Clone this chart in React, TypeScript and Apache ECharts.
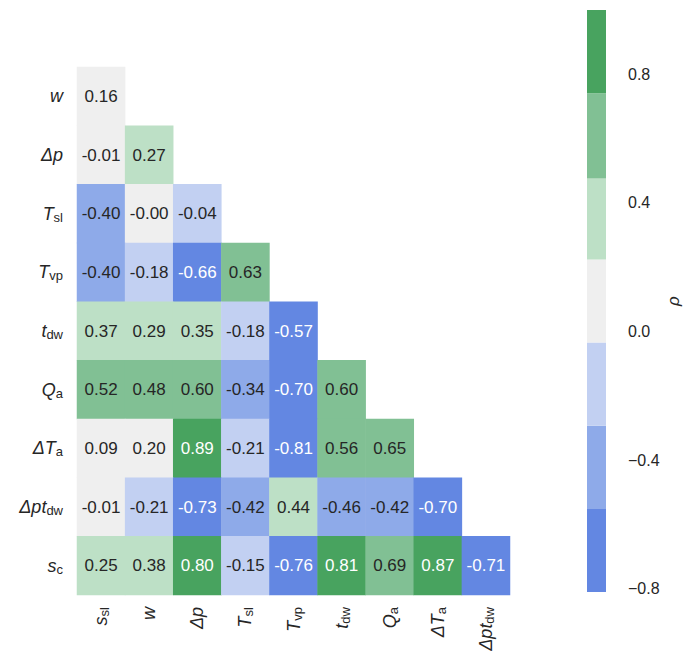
import React, { useEffect, useRef } from "react";
import * as echarts from "echarts";

const colLabels = ["s_sl", "w", "Δp", "T_sl", "T_vp", "t_dw", "Q_a", "ΔT_a", "Δpt_dw"];
const rowLabels = ["w", "Δp", "T_sl", "T_vp", "t_dw", "Q_a", "ΔT_a", "Δpt_dw", "s_c"];

const rowW = [0.16];
const rowDp = [-0.01, 0.27];
const rowTsl = [-0.4, -0.0, -0.04];
const rowTvp = [-0.4, -0.18, -0.66, 0.63];
const rowTdw = [0.37, 0.29, 0.35, -0.18, -0.57];
const rowQa = [0.52, 0.48, 0.6, -0.34, -0.7, 0.6];
const rowDTa = [0.09, 0.2, 0.89, -0.21, -0.81, 0.56, 0.65];
const rowDptdw = [-0.01, -0.21, -0.73, -0.42, 0.44, -0.46, -0.42, -0.7];
const rowSc = [0.25, 0.38, 0.8, -0.15, -0.76, 0.81, 0.69, 0.87, -0.71];
const matrixRows = [rowW, rowDp, rowTsl, rowTvp, rowTdw, rowQa, rowDTa, rowDptdw, rowSc];

const thresholds = [-0.81, -0.552, -0.293, -0.034, 0.224, 0.476, 0.741, 1.0];
const binColors = ["#6387e2", "#8eaae9", "#c2d0f2", "#efefef", "#bde0c6", "#81c094", "#48a35f"];
const colorbarTicks = [-0.8, -0.4, 0.0, 0.4, 0.8];

const FONT = "'Liberation Sans', Arial, sans-serif";
const TXT = "#262626";

function toRich(label: string): string {
  const [main, sub] = label.split("_");
  return sub ? `{m|${main}}{s|${sub}}` : `{m|${main}}`;
}

function fmt(v: number): string {
  if (Object.is(v, -0)) return "-0.00";
  return v.toFixed(2);
}

function binIndex(v: number): number {
  for (let i = 0; i < binColors.length; i++) {
    if (v < thresholds[i + 1]) return i;
  }
  return binColors.length - 1;
}

const richStyles = {
  m: { fontSize: 18, fontStyle: "italic", fontFamily: FONT, color: TXT, lineHeight: 20 },
  s: { fontSize: 13, fontFamily: FONT, color: TXT, lineHeight: 2, verticalAlign: "bottom" },
};

export default function App() {
  const ref = useRef<HTMLDivElement>(null);
  useEffect(() => {
    document.body.style.margin = "0";
    if (!ref.current) return;
    const chart = echarts.init(ref.current, null, { renderer: "svg" });
    const heatData: any[] = [];
    matrixRows.forEach((row, r) => {
      row.forEach((v, c) => {
        const b = binIndex(v);
        heatData.push({
          value: [c, r, v],
          label: { color: b === 0 || b === 6 ? "#ffffff" : TXT },
        });
      });
    });
    const cbData = binColors.map((_, i) => [thresholds[i], thresholds[i + 1]]);
    const pieces = binColors.map((col, i) => ({
      gte: i === 0 ? -10 : thresholds[i],
      lt: i === binColors.length - 1 ? 10 : thresholds[i + 1],
      color: col,
    }));
    chart.setOption({
      animation: false,
      backgroundColor: "#ffffff",
      visualMap: {
        type: "piecewise",
        show: false,
        seriesIndex: 0,
        dimension: 2,
        pieces,
      },
      grid: [
        { left: 77, top: 67, width: 433, height: 528 },
        { left: 587, top: 10, width: 29, height: 582 },
      ],
      xAxis: [
        {
          type: "category",
          gridIndex: 0,
          data: colLabels,
          axisLine: { show: false },
          axisTick: { show: false },
          splitLine: { show: false },
          axisLabel: {
            rotate: 90,
            margin: 12,
            formatter: (v: string) => toRich(v),
            rich: richStyles,
          },
        },
        { type: "value", gridIndex: 1, min: 0, max: 1, show: false },
      ],
      yAxis: [
        {
          type: "category",
          gridIndex: 0,
          data: rowLabels,
          inverse: true,
          axisLine: { show: false },
          axisTick: { show: false },
          splitLine: { show: false },
          axisLabel: {
            margin: 14,
            formatter: (v: string) => toRich(v),
            rich: richStyles,
          },
        },
        {
          type: "value",
          gridIndex: 1,
          position: "right",
          min: thresholds[0],
          max: thresholds[thresholds.length - 1],
          splitLine: { show: false },
          axisLine: { show: false },
          axisTick: { show: true, length: 5, lineStyle: { color: TXT, width: 1 }, customValues: colorbarTicks },
          axisLabel: {
            margin: 22,
            color: TXT,
            fontSize: 16,
            fontFamily: FONT,
            customValues: colorbarTicks,
            formatter: (v: number) => (v < 0 ? "\u2212" + Math.abs(v).toFixed(1) : v.toFixed(1)),
          },
          name: "ρ",
          nameLocation: "middle",
          nameRotate: 90,
          nameGap: 59,
          nameTextStyle: { fontSize: 17, fontStyle: "italic", fontFamily: FONT, color: TXT },
        },
      ],
      series: [
        {
          type: "heatmap",
          xAxisIndex: 0,
          yAxisIndex: 0,
          data: heatData,
          label: {
            show: true,
            fontSize: 17,
            fontFamily: FONT,
            formatter: (p: any) => fmt(p.value[2]),
          },
          emphasis: { disabled: true },
        },
        {
          type: "custom",
          xAxisIndex: 1,
          yAxisIndex: 1,
          data: cbData,
          encode: { y: [0, 1] },
          renderItem: (params: any, api: any) => {
            const lo = api.value(0);
            const hi = api.value(1);
            const p1 = api.coord([0, hi]);
            const p2 = api.coord([1, lo]);
            return {
              type: "rect",
              shape: { x: p1[0], y: p1[1], width: p2[0] - p1[0], height: p2[1] - p1[1] },
              style: { fill: binColors[params.dataIndex] },
            };
          },
        },
      ],
    });
    return () => chart.dispose();
  }, []);
  return <div ref={ref} style={{ width: 683, height: 655 }} />;
}
